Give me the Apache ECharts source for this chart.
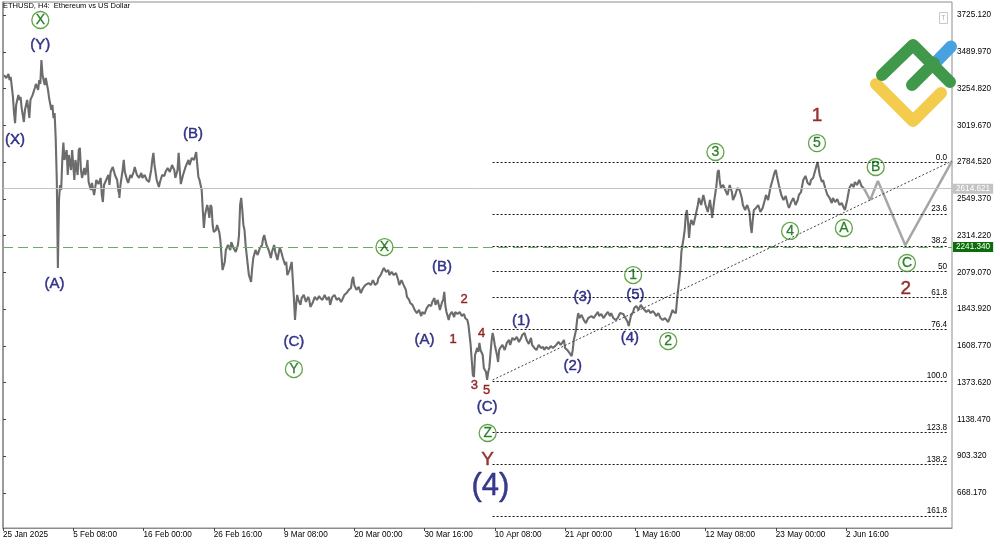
<!DOCTYPE html>
<html><head><meta charset="utf-8">
<script src="https://cdn.jsdelivr.net/npm/echarts@6.0.0/dist/echarts.min.js"></script>
<style>html,body{margin:0;padding:0;background:#fff}#c{width:1000px;height:545px}</style>
</head><body><div id="c"></div>
<script>
const chartTitle = 'ETHUSD, H4:  Ethereum vs US Dollar';
// x axis: H4 bar index counted from 25 Jan 2025 00:00
const xTickBars = [0,64,128,192,256,320,384,448,512,576,640,704,768];
const xTickLabels = ['25 Jan 2025','5 Feb 08:00','16 Feb 00:00','26 Feb 16:00','9 Mar 08:00','20 Mar 00:00','30 Mar 16:00','10 Apr 08:00','21 Apr 00:00','1 May 16:00','12 May 08:00','23 May 00:00','2 Jun 16:00'];
const yTickValues = [668.17,903.32,1138.47,1373.62,1608.77,1843.92,2079.07,2314.22,2549.37,2784.52,3019.67,3254.82,3489.97,3725.12];

// price path [bar index, price]
const priceData = [
[1,3341],[3,3322],[5,3348],[6,3309],[7,3329],[9,3207],[10,3105],[11,3034],[12,3150],[14,3214],[15,3182],[16,3201],[17,3130],[19,3041],[20,3118],[22,3182],[23,3130],[24,3066],[25,3182],[27,3214],[29,3258],[30,3284],[32,3246],[33,3309],[34,3284],[35,3437],[36,3341],[38,3277],[39,3322],[41,3246],[42,3194],[44,3118],[45,3150],[46,3066],[47,3098],[48,2939],[49,2670],[50,2107],[51,2542],[52,2638],[53,2606],[54,2798],[55,2910],
[56,2798],[58,2862],[59,2702],[60,2830],[62,2734],[63,2862],[64,2766],[65,2670],[66,2798],[68,2702],[69,2862],[70,2875],[71,2734],[72,2683],[74,2747],[75,2702],[76,2734],[77,2798],[78,2657],[80,2606],[81,2651],[83,2574],[84,2619],[85,2670],[87,2644],[89,2683],[90,2574],[91,2529],[92,2638],[94,2670],[96,2702],[97,2638],[98,2721],[100,2753],[102,2702],[104,2670],[105,2606],[106,2574],[106,2555],[107,2638],[109,2734],[110,2798],[111,2721],[113,2670],[114,2651],[116,2702],[117,2683],[119,2721],[120,2753],[122,2702],[124,2683],[126,2715],[127,2683],[129,2702],[131,2670],[133,2657],[135,2734],[136,2798],[137,2843],[138,2766],[140,2670],[142,2625],[143,2657],[145,2702],[147,2696],[148,2721],[150,2747],[152,2721],[154,2766],[156,2734],[157,2683],[159,2734],[160,2843],[161,2734],[162,2644],[164,2702],[166,2747],[167,2766],[169,2798],[170,2766],[172,2811],[174,2798],[176,2849],[177,2766],[178,2689],[179,2670],[180,2638],[181,2606],[182,2478],[183,2363],[184,2446],[186,2510],[187,2478],[188,2427],[189,2510],[190,2497],[191,2382],[192,2337],[194,2350],[195,2382],[197,2337],[198,2286],[199,2190],[200,2094],[202,2146],[203,2222],[205,2254],[207,2222],[208,2273],[210,2235],[212,2210],[214,2254],[215,2318],[216,2510],[217,2555],[218,2478],[219,2382],[220,2350],[221,2254],[223,2126],[224,2062],[226,2018],[227,2107],[228,2171],[230,2222],[232,2190],[234,2235],[236,2254],[237,2299],[238,2318],[240,2254],[242,2222],[244,2171],[245,2210],[247,2254],[248,2210],[250,2158],[252,2235],[253,2222],[255,2171],[257,2126],[258,2146],[259,2062],[261,2094],[263,2146],[264,2030],[265,1915],[266,1775],[267,1871],[268,1935],[269,1903],[271,1871],[272,1915],[274,1935],[276,1890],[278,1922],[279,1903],[280,1858],[282,1883],[284,1922],[286,1903],[288,1928],[289,1915],
[291,1903],[293,1935],[295,1903],[297,1922],[298,1871],[300,1922],[302,1935],[304,1903],[306,1915],[308,1890],[309,1903],[311,1935],[313,1947],[315,1967],[317,1979],[318,2030],[319,2050],[320,1998],[322,1967],[324,1986],[326,1947],[328,1979],[330,1998],[331,1986],[333,2011],[335,1998],[337,2030],[339,1998],[341,2011],[342,2043],[344,2062],[346,2094],[347,2107],[349,2082],[351,2094],[352,2062],[354,2082],[356,2062],[358,2075],[360,2030],[361,1998],[363,2030],[365,1998],[367,1967],[368,1922],[370,1903],[371,1883],[373,1871],[375,1839],[377,1819],[379,1839],[381,1800],[382,1826],[384,1813],[386,1851],[388,1871],[390,1864],[391,1890],[393,1915],[394,1871],[396,1903],[398,1839],[400,1890],[401,1903],[402,1954],[403,1864],[404,1826],[406,1775],[407,1807],[409,1826],[411,1794],[412,1826],[414,1813],[416,1826],[418,1800],[420,1813],[421,1787],[423,1775],[424,1743],[426,1615],[427,1519],[428,1423],[429,1410],[430,1551],[432,1596],[433,1570],[434,1628],[435,1583],[437,1551],[438,1468],[440,1442],[441,1391],[442,1442],[443,1468],[444,1551],[445,1634],[446,1692],[447,1660],[448,1615],[450,1551],[451,1506],[452,1583],[453,1596],[455,1615],[457,1583],[459,1628],[461,1647],[462,1615],[464,1660],[466,1647],[468,1666],[470,1634],[472,1660],[473,1679],[475,1692],[477,1647],[479,1621],[481,1660],[482,1615],[484,1596],[486,1583],[488,1615],[490,1596],[492,1602],[493,1583],[495,1602],[497,1589],[499,1608],[501,1596],[502,1608],[504,1615],[506,1634],[508,1615],[510,1634],[511,1647],[512,1596],[514,1583],[516,1564],[518,1544],[519,1583],[520,1647],[522,1711],[523,1775],[524,1819],[525,1787],[527,1807],[529,1775],[531,1755],[533,1787],[534,1775],[536,1800],[538,1787],[540,1807],[542,1826],[543,1800],[545,1813],[547,1787],[549,1807],[551,1826],[553,1800],[554,1819],[556,1787],[558,1775],[560,1787],[562,1819],[563,1807],
[565,1813],[567,1787],[569,1762],[570,1736],[572,1800],[574,1826],[575,1851],[577,1864],[579,1839],[581,1871],[583,1851],[584,1839],[586,1826],[588,1839],[590,1819],[592,1832],[594,1813],[595,1800],[597,1819],[599,1787],[601,1775],[603,1787],[604,1775],[606,1762],[608,1800],[610,1839],[611,1826],[613,1819],[614,1903],[615,1967],[617,2094],[618,2210],[619,2254],[620,2299],[621,2350],[622,2446],[623,2478],[624,2401],[625,2299],[626,2382],[627,2414],[629,2382],[631,2446],[633,2510],[634,2555],[636,2510],[638,2574],[640,2510],[642,2465],[644,2542],[645,2491],[646,2427],[648,2542],[650,2638],[651,2721],[652,2734],[653,2657],[654,2619],[656,2638],[658,2606],[660,2574],[662,2638],[664,2593],[665,2542],[667,2574],[669,2619],[671,2606],[673,2555],[674,2510],[676,2478],[678,2510],[680,2465],[681,2382],[682,2331],[683,2414],[684,2478],[686,2491],[688,2510],[690,2465],[692,2491],[694,2542],[695,2574],[697,2542],[699,2619],[701,2670],[703,2721],[704,2734],[705,2696],[707,2632],[709,2574],[711,2542],[713,2568],[715,2510],[716,2491],[718,2529],[720,2555],[722,2510],[724,2542],[725,2574],[727,2593],[729,2670],[731,2696],[733,2651],[735,2638],[736,2670],[738,2683],[740,2734],[742,2785],[743,2747],[744,2702],[746,2657],[747,2670],[749,2619],[751,2574],[753,2555],[755,2523],[756,2555],[758,2529],[760,2548],[762,2510],[764,2523],[766,2491],[767,2478],[769,2542],[771,2619],[773,2644],[775,2625],[776,2657],[778,2638],[780,2670],[782,2632],[784,2619]
];

const projection = [[784,2619],[790,2541],[797,2663],[822,2253],[864.5,2790]];
const trendLine = [[446,1391],[864.5,2791]];
const fibStartEnd = [446,861];
const fibLabels = ['0.0','23.6','38.2','50','61.8','76.4','100.0','123.8','138.2','161.8'];
const fibPrices = [2783,2453,2249,2084,1919,1715,1385,1055,851,521];
const bidPrice = 2614.621;
const levelPrice = 2241.340;

// wave labels [bar index, price, text]
const navyLabels = [[34,3533,'(Y)'],[11,2926,'(X)'],[47,2005,'(A)'],[173,2964,'(B)'],[265,1634,'(C)'],[400,2113,'(B)'],[384,1647,'(A)'],[441,1218,'(C)'],[472,1768,'(1)'],[519,1480,'(2)'],[528,1922,'(3)'],[571,1659,'(4)'],[576,1934,'(5)']];
const navyBig = [[444,707,'(4)']];
const redSmall = [[420,1909,'2'],[410,1653,'1'],[436,1691,'4'],[429.5,1359,'3'],[440.5,1327,'5']];
const redLarge = [[441.5,879,'Y'],[741.5,3079,'1'],[822.5,1973,'2']];
const circled = [[34,3693,'X'],[265,1461,'Y'],[347.5,2241,'X'],[441.5,1052,'Z'],[574,2062,'1'],[606,1640,'2'],[649,2849,'3'],[717,2344,'4'],[741.5,2906,'5'],[766,2363,'A'],[795,2753,'B'],[823.5,2139,'C']];

const FONT = 'Liberation Sans, Arial, sans-serif';
function labelSeries(list, label, z) {
  return {
    type: 'scatter', symbolSize: 1, z: z || 10, silent: true,
    itemStyle: { color: 'rgba(0,0,0,0)' },
    data: list.map(d => ({ value: [d[0], d[1]], name: d[2] })),
    label: Object.assign({ show: true, position: 'inside', formatter: '{b}', fontFamily: FONT, textBorderColor: label.color, textBorderWidth: 0.45 }, label)
  };
}

const fibMark = fibPrices.map((p, i) => [
  { coord: [fibStartEnd[0], p], label: { formatter: fibLabels[i] } },
  { coord: [fibStartEnd[1], p] }
]);

const chart = echarts.init(document.getElementById('c'));
chart.setOption({
  animation: false,
  backgroundColor: '#ffffff',
  title: { text: chartTitle, left: 3, top: 2, padding: 0, textStyle: { fontSize: 7.5, fontWeight: 'normal', color: '#000', fontFamily: FONT } },
  grid: { left: 1, right: 48, top: 2, bottom: 17, show: true, borderColor: '#8c8c8c', borderWidth: 1 },
  xAxis: {
    type: 'value', min: 0, max: 864.5,
    axisLine: { lineStyle: { color: '#8c8c8c' } },
    axisTick: { show: true, length: 3, customValues: xTickBars, lineStyle: { color: '#444' } },
    axisLabel: { customValues: xTickBars, align: 'left', margin: 3, fontSize: 8.2, color: '#000', fontFamily: FONT,
      formatter: v => { const i = xTickBars.indexOf(Math.round(v)); return i >= 0 ? xTickLabels[i] : ''; } },
    splitLine: { show: false }
  },
  yAxis: {
    type: 'value', position: 'right', min: 444.4, max: 3808.2,
    axisLine: { show: true, lineStyle: { color: '#8c8c8c', width: 1.5 } },
    axisTick: { show: true, length: 3, customValues: yTickValues, lineStyle: { color: '#444' } },
    axisLabel: { customValues: yTickValues, margin: 5, fontSize: 8.2, color: '#000', fontFamily: FONT, formatter: v => v.toFixed(3) },
    splitLine: { show: false }
  },
  graphic: [
    { type: 'rect', shape: { x: 939.5, y: 12.5, width: 8, height: 11 }, style: { fill: '#fff', stroke: '#c8c8c8', lineWidth: 1 }, z: 50 },
    { type: 'text', x: 943.5, y: 18, style: { text: 'T', fill: '#b0b0b0', font: '7px ' + FONT, align: 'center', verticalAlign: 'middle' }, z: 51 },
    { type: 'polyline', shape: { points: [[937, 61], [951, 46.5]] }, style: { stroke: '#49a2e0', lineWidth: 12, lineCap: 'round', fill: null }, z: 50 },
    { type: 'polyline', shape: { points: [[876, 84], [913, 121], [941, 93]] }, style: { stroke: '#f3cb4d', lineWidth: 12, lineCap: 'round', lineJoin: 'round', fill: null }, z: 50 },
    { type: 'polyline', shape: { points: [[882, 75], [913, 45], [950, 82]] }, style: { stroke: '#40984a', lineWidth: 12, lineCap: 'round', lineJoin: 'round', fill: null }, z: 51 },
    { type: 'polyline', shape: { points: [[912, 85], [934, 63]] }, style: { stroke: '#40984a', lineWidth: 12, lineCap: 'round', fill: null }, z: 51 }
  ],
  series: [
    {
      type: 'line', name: 'levels', data: [], z: 1, silent: true,
      markLine: {
        silent: true, symbol: ['none', 'none'], animation: false,
        data: [
          { yAxis: bidPrice, lineStyle: { color: '#c3c3c3', type: 'solid', width: 1 },
            label: { show: true, position: 'end', distance: 1, formatter: '2614.621', color: '#fff', backgroundColor: '#c3c3c3', padding: [1, 3, 1, 3], fontSize: 8.2, fontFamily: FONT } },
          { yAxis: levelPrice, lineStyle: { color: '#62b062', type: [10, 5], width: 1 },
            label: { show: true, position: 'end', distance: 1, formatter: '2241.340', color: '#fff', backgroundColor: '#0b6e0b', padding: [1, 3, 1, 3], fontSize: 8.2, fontFamily: FONT } }
        ]
      }
    },
    {
      type: 'line', name: 'fib', data: [], z: 2, silent: true,
      markLine: {
        silent: true, symbol: ['none', 'none'], animation: false,
        lineStyle: { color: '#111', type: [2, 2], width: 1 },
        label: { show: true, position: 'insideEndTop', distance: 1, fontSize: 8.2, color: '#000', fontFamily: FONT },
        data: fibMark.concat([[{ coord: trendLine[0], lineStyle: { color: '#444', type: [2, 2] }, label: { show: false } }, { coord: trendLine[1] }]])
      }
    },
    {
      type: 'line', name: 'ETHUSD', data: priceData, z: 3, symbol: 'none', silent: true,
      lineStyle: { color: '#6c6c6c', width: 2.1 }
    },
    {
      type: 'line', name: 'projection', data: projection, z: 4, symbol: 'none', silent: true,
      lineStyle: { color: '#a6a6a6', width: 2.5 }
    },
    labelSeries(navyLabels, { color: '#0a0a70', fontSize: 15 }),
    labelSeries(navyBig, { color: '#0a0a70', fontSize: 31 }),
    labelSeries(redSmall, { color: '#800000', fontSize: 13 }),
    labelSeries(redLarge, { color: '#800000', fontSize: 19 }),
    labelSeries(circled, { color: '#006800', fontSize: 14, width: 17, height: 17, lineHeight: 17, borderColor: '#3a8f1a', borderWidth: 1.3, borderRadius: 8.5, align: 'center', verticalAlign: 'middle', padding: 0, textBorderWidth: 0.3 }, 11)
  ]
});
</script></body></html>
